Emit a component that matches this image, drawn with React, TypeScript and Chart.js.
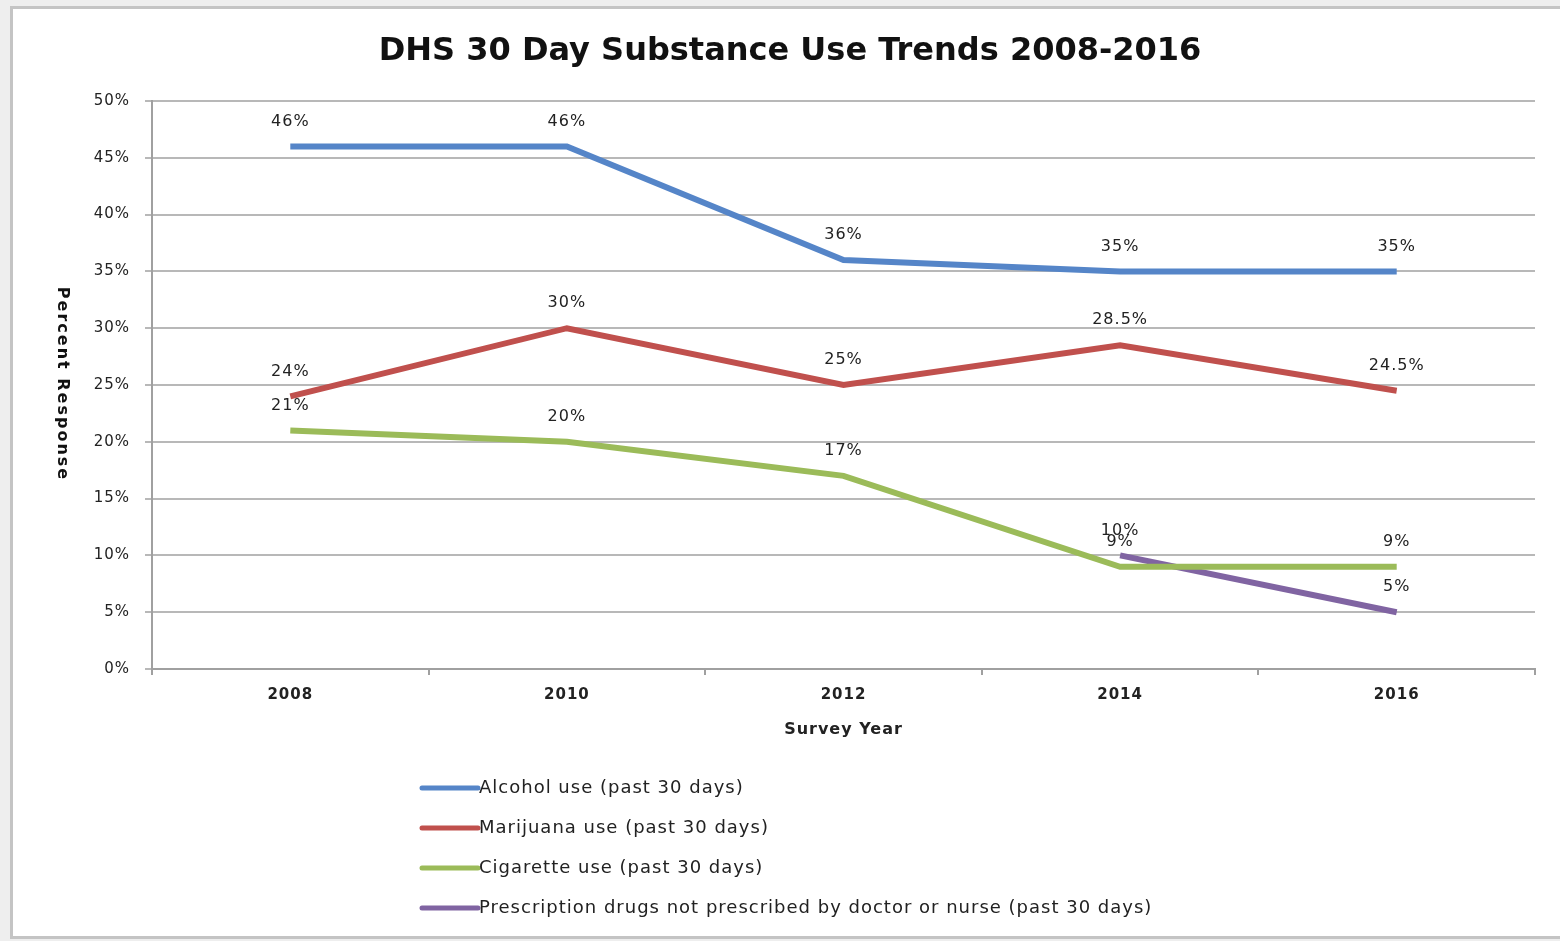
import React, { useEffect, useRef } from "react";
import { Chart, registerables } from "chart.js";

Chart.register(...registerables);

const years = ["2008", "2010", "2012", "2014", "2016"];
const alcohol = [46, 46, 36, 35, 35];
const marijuana = [24, 30, 25, 28.5, 24.5];
const cigarette = [21, 20, 17, 9, 9];
const prescription = [null, null, null, 10, 5];
const seriesNames = [
  "Alcohol use (past 30 days)",
  "Marijuana use (past 30 days)",
  "Cigarette use (past 30 days)",
  "Prescription drugs not prescribed by doctor or nurse (past 30 days)",
];
const seriesColors = ["#5585C8", "#C0504D", "#9BBB59", "#8064A2"];
const titleText = "DHS 30 Day Substance Use Trends 2008-2016";
const yTitleText = "Percent Response";
const xTitleText = "Survey Year";

const FONT = "'DejaVu Sans', Verdana, sans-serif";

const labelsPlugin = {
  id: "customDraw",
  beforeDraw(chart: any) {
    (chart.ctx as any).letterSpacing = "1px";
  },
  afterDatasetsDraw(chart: any) {
    const ctx = chart.ctx;
    ctx.save();
    (ctx as any).letterSpacing = "1px";
    ctx.font = `16px ${FONT}`;
    ctx.fillStyle = "#222";
    ctx.textAlign = "center";
    ctx.textBaseline = "middle";
    chart.data.datasets.forEach((ds: any, i: number) => {
      const meta = chart.getDatasetMeta(i);
      meta.data.forEach((pt: any, j: number) => {
        const v = ds.data[j];
        if (v === null || v === undefined) return;
        ctx.fillText(v + "%", pt.x, pt.y - 25);
      });
    });
    ctx.restore();
  },
  afterDraw(chart: any) {
    const ctx = chart.ctx;
    ctx.save();
    // title
    (ctx as any).letterSpacing = "0px";
    ctx.font = `bold 32px ${FONT}`;
    ctx.fillStyle = "#111";
    ctx.textAlign = "center";
    ctx.textBaseline = "middle";
    ctx.fillText(titleText, 790, 52);
    // y title rotated clockwise
    ctx.save();
    ctx.translate(62, 384);
    ctx.rotate(Math.PI / 2);
    (ctx as any).letterSpacing = "2px";
    ctx.font = `bold 16px ${FONT}`;
    ctx.fillStyle = "#111";
    ctx.fillText(yTitleText, 0, 0);
    ctx.restore();
    // legend
    (ctx as any).letterSpacing = "1px";
    ctx.font = `18px ${FONT}`;
    ctx.textAlign = "left";
    ctx.textBaseline = "middle";
    chart.data.datasets.forEach((ds: any, i: number) => {
      const y = 788 + i * 40;
      ctx.strokeStyle = ds.borderColor;
      ctx.lineWidth = 5;
      ctx.lineCap = "round";
      ctx.beginPath();
      ctx.moveTo(422, y);
      ctx.lineTo(478, y);
      ctx.stroke();
      ctx.fillStyle = "#222";
      ctx.fillText(ds.label, 479, y);
    });
    ctx.restore();
  },
};

export default function App() {
  const ref = useRef<HTMLCanvasElement>(null);
  useEffect(() => {
    const seriesData = [alcohol, marijuana, cigarette, prescription];
    const chart = new Chart(ref.current!, {
      type: "line",
      data: {
        labels: years,
        datasets: seriesData.map((d, i) => ({
          label: seriesNames[i],
          data: d as any,
          borderColor: seriesColors[i],
          backgroundColor: seriesColors[i],
          borderWidth: 6,
          pointRadius: 0,
          tension: 0,
          fill: false,
        })),
      },
      options: {
        animation: false,
        responsive: false,
        layout: { padding: { left: 0, right: 25, top: 101, bottom: 202 } },
        plugins: {
          legend: { display: false },
          tooltip: { enabled: false },
          title: { display: false },
        },
        scales: {
          x: {
            type: "category",
            offset: true,
            grid: {
              offset: true,
              drawOnChartArea: false,
              drawTicks: true,
              tickLength: 6,
              color: "#a0a0a0",
              lineWidth: 2,
            },
            border: { color: "#a0a0a0", width: 2 },
            ticks: {
              color: "#222",
              font: { family: FONT, size: 15, weight: "bold" },
              padding: 11,
            },
            title: {
              display: true,
              text: xTitleText,
              color: "#222",
              font: { family: FONT, size: 16, weight: "bold" },
              padding: { top: 4, bottom: 0 },
            },
            afterFit: (s: any) => {
              s.height = 70;
            },
          },
          y: {
            min: 0,
            max: 50,
            ticks: {
              stepSize: 5,
              color: "#222",
              font: { family: FONT, size: 15 },
              padding: 15,
              callback: (v: any) => v + "%",
            },
            grid: {
              color: "#b8b8b8",
              lineWidth: 2,
              tickLength: 7,
            },
            border: { color: "#a0a0a0", width: 2 },
            afterFit: (s: any) => {
              s.width = 152;
            },
          },
        },
      },
      plugins: [labelsPlugin],
    });
    return () => chart.destroy();
  }, []);

  return (
    <div
      style={{
        position: "fixed",
        left: 0,
        top: 0,
        width: 1560,
        height: 941,
        background: "#eeeeee",
        overflow: "hidden",
      }}
    >
      <div
        style={{
          position: "absolute",
          left: 10,
          top: 6,
          width: 1580,
          height: 927,
          background: "#ffffff",
          border: "3px solid #c4c4c4",
        }}
      />
      <canvas
        ref={ref}
        width={1560}
        height={941}
        style={{ position: "absolute", left: 0, top: 0, width: 1560, height: 941 }}
      />
    </div>
  );
}
